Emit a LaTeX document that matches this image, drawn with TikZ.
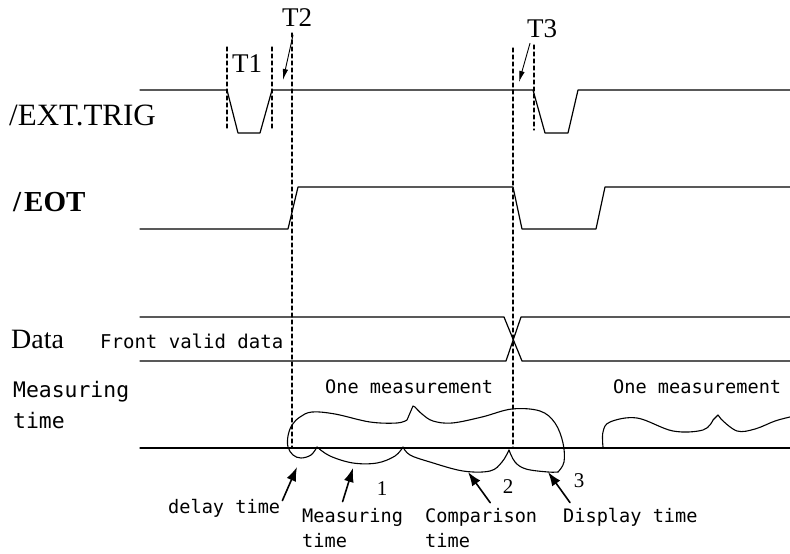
\documentclass[tikz,border=0pt]{standalone}
\usepackage{fontspec}
\setmainfont{Liberation Serif}
\newfontfamily\monofont{DejaVu Sans Mono}
\usetikzlibrary{arrows.meta}
\begin{document}
\begin{tikzpicture}[x=1pt,y=-1pt,line join=round,line cap=round]
	\tikzset{sig/.style={line width=1.2pt},
		guide/.style={line width=1.2pt,dash pattern=on 4pt off 3pt},
		brace/.style={line width=1.1pt},
		lbl/.style={inner sep=0pt,anchor=base west},
		sname/.style={lbl,font=\fontsize{28}{30}\selectfont},
		mono/.style={lbl,font=\monofont\fontsize{18.6}{20}\selectfont},
		tname/.style={inner sep=0pt,font=\fontsize{27}{30}\selectfont},
		num/.style={inner sep=0pt,font=\fontsize{21}{24}\selectfont},
		ptr/.style={-{Latex[length=14pt,width=10pt]},line width=1.6pt},
		tptr/.style={-{Latex[length=11pt,width=5.5pt]},line width=0.9pt}}
	%%Levels of the signals
	\def \xs{140}
	\def \xe{790}
	\def \trH{90}
	\def \trL{133}
	\def \eoH{187}
	\def \eoL{229}
	\def \daH{317}
	\def \daL{361}
	\def \mbase{448}
	\useasboundingbox (0,0) rectangle (790,554);
	%%Signal names
	\node[sname,font=\fontsize{31}{32}\selectfont] (ntrig) at (9,125) {/EXT.TRIG};
	\node[sname,font=\bfseries\fontsize{29}{30}\selectfont] (neot) at (13,211) {/\kern3pt EOT};
	\node[sname,font=\fontsize{28}{30}\selectfont] (ndata) at (11,348) {Data};
	\node[mono,font=\monofont\fontsize{21.4}{24}\selectfont] (nmt) at (13,397) {Measuring};
	\node[mono,font=\monofont\fontsize{21.4}{24}\selectfont] (nmt2) at (13,428) {time};
	%%Waveforms
	\draw[sig] (\xs,\trH) -- (227,\trH) -- (238,\trL) -- (260,\trL) -- (272,\trH)
		-- (533,\trH) -- (545,\trL) -- (568,\trL) -- (578,\trH) -- (\xe,\trH);
	\draw[sig] (\xs,\eoL) -- (288,\eoL) -- (298,\eoH) -- (513,\eoH) -- (522,\eoL)
		-- (596,\eoL) -- (605,\eoH) -- (\xe,\eoH);
	\draw[sig] (\xs,\daH) -- (504,\daH) -- (522,\daL) -- (\xe,\daL);
	\draw[sig] (\xs,\daL) -- (506,\daL) -- (521,\daH) -- (\xe,\daH);
	\draw[sig] (\xs,\mbase) -- (\xe,\mbase);
	%%Dashed marks
	\draw[guide] (227,47) -- (227,130) (272,47) -- (272,130) (534,45) -- (534,130);
	\draw[guide] (292,33) -- (292,447) (513,48) -- (513,447);
	%%Timing names
	\node[tname] (nt1) at (247,64) {T1};
	\node[tname] (nt2) at (297,18) {T2};
	\node[tname] (nt3) at (542,29) {T3};
	\coordinate (t2tip) at (283,80);
	\coordinate (t3tip) at (519,82);
	\draw[tptr] ([xshift=-4pt,yshift=-8pt]nt2.south) -- (t2tip);
	\draw[tptr] ([xshift=-12pt,yshift=-5pt]nt3.south) -- (t3tip);
	%%Data and measurement texts
	\node[mono,font=\monofont\fontsize{19}{20}\selectfont] (nfront) at (100,348) {Front valid data};
	\node[mono] (none1) at (325,393) {One measurement};
	\node[mono] (none2) at (613,393) {One measurement};
	%%Braces
	\draw[brace] plot[smooth,tension=0.6] coordinates {(317,447) (311,455) (301,458) (293,455) (288,447)
		(288,436) (292,425) (300,417) (312,412) (335,414) (370,422) (397,423) (407,420)} -- (413,406)
		-- plot[smooth,tension=0.6] coordinates {(415,407) (422,414) (433,421) (452,423) (482,417)
		(512,409) (540,411) (555,423) (563,443) (564,462) (558,472)};
	\draw[brace] plot[smooth,tension=0.6] coordinates {(317,447) (330,456) (353,463) (377,463) (395,456) (403,447)};
	\draw[brace] plot[smooth,tension=0.6] coordinates {(403,447) (410,455) (430,462) (463,471) (490,471) (502,462) (509,450)};
	\draw[brace] plot[smooth,tension=0.6] coordinates {(509,450) (515,462) (526,469) (548,472) (558,472)};
	\draw[brace] plot[smooth,tension=0.6] coordinates {(603,447) (603,432) (610,422) (637,418) (673,431)
		(703,430) (713,420)} -- (718,415) -- plot[smooth,tension=0.6] coordinates {(721,419) (737,431)
		(755,429) (775,421) (790,417)};
	%%Parts of one measurement
	\node[num] (n1) at (382,489) {1};
	\node[num] (n2) at (508,487) {2};
	\node[num] (n3) at (579,481) {3};
	\node[mono] (ndelay) at (168,513) {delay time};
	\node[mono] (nmeas) at (302,522) {Measuring};
	\node[mono] (nmeas2) at (302,547) {time};
	\node[mono] (ncomp) at (425,522) {Comparison};
	\node[mono] (ncomp2) at (425,547) {time};
	\node[mono] (ndisp) at (563,522) {Display time};
	\coordinate (dtip) at (297,467);
	\coordinate (mtip) at (353,468);
	\coordinate (ctip) at (468,472);
	\coordinate (ptip) at (548,472);
	\draw[ptr] ([xshift=2pt,yshift=-2pt]ndelay.north east) -- (dtip);
	\draw[ptr] ([xshift=-10pt,yshift=6pt]nmeas.north) -- (mtip);
	\draw[ptr] ([xshift=9pt,yshift=5pt]ncomp.north) -- (ctip);
	\draw[ptr] ([xshift=7pt,yshift=5pt]ndisp.north west) -- (ptip);
\end{tikzpicture}
\end{document}
